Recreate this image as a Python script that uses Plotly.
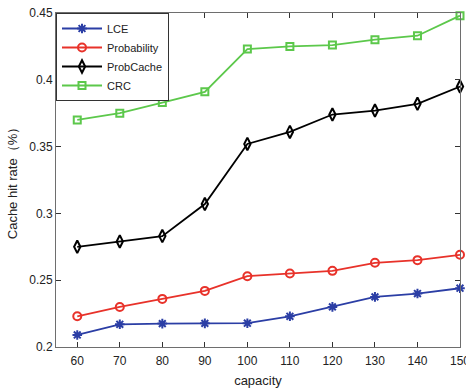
import plotly.graph_objects as go

capacity = [60, 70, 80, 90, 100, 110, 120, 130, 140, 150]
lce = [0.209, 0.217, 0.2175, 0.2177, 0.2178, 0.223, 0.230, 0.2375, 0.240, 0.244]
probability = [0.223, 0.230, 0.236, 0.242, 0.253, 0.255, 0.257, 0.263, 0.265, 0.269]
probcache = [0.275, 0.279, 0.283, 0.307, 0.352, 0.361, 0.374, 0.377, 0.382, 0.395]
crc = [0.370, 0.375, 0.383, 0.391, 0.423, 0.425, 0.426, 0.430, 0.433, 0.448]

series = [
    ("LCE", lce, "#2b3ea5", "asterisk-open", 8),
    ("Probability", probability, "#e8322a", "circle-open", 8),
    ("ProbCache", probcache, "#000000", "diamond-tall-open", 9),
    ("CRC", crc, "#5cc84b", "square-open", 7),
]

fig = go.Figure()
for name, vals, col, sym, sz in series:
    fig.add_trace(go.Scatter(
        x=capacity, y=vals, name=name, mode="lines+markers",
        line=dict(color=col, width=1.8),
        marker=dict(symbol=sym, size=sz, color=col, line=dict(color=col, width=2)),
        cliponaxis=False,
    ))

axis_common = dict(
    showgrid=False, zeroline=False, showline=True, mirror="ticks",
    linecolor="#6e6e6e", linewidth=1, ticks="inside", ticklen=5,
    tickcolor="#333333", tickfont=dict(family="Liberation Sans, Arial", size=12, color="#222222"),
    ticklabeloverflow="allow",
)

fig.update_layout(
    width=466, height=388,
    margin=dict(l=56, r=6, t=13, b=41, autoexpand=False),
    paper_bgcolor="white", plot_bgcolor="white",
    font=dict(family="Liberation Sans, Arial", size=12, color="#222222"),
    showlegend=True,
    legend=dict(x=0.0, y=1.0, xanchor="left", yanchor="top",
                bordercolor="#333333", borderwidth=1, bgcolor="white",
                font=dict(size=11), itemwidth=40, tracegroupgap=0),
    xaxis=dict(range=[55, 150], tickvals=capacity, ticklabelstandoff=3, automargin=False,
               title=dict(text="capacity", font=dict(size=13)), **axis_common),
    yaxis=dict(range=[0.2, 0.45], tickvals=[0.2, 0.25, 0.3, 0.35, 0.4, 0.45],
               ticktext=["0.2", "0.25", "0.3", "0.35", "0.4", "0.45"], automargin=True,
               title=dict(text="Cache hit rate（%）", standoff=8, font=dict(size=13)), **axis_common),
)

fig.write_html("out.html")
